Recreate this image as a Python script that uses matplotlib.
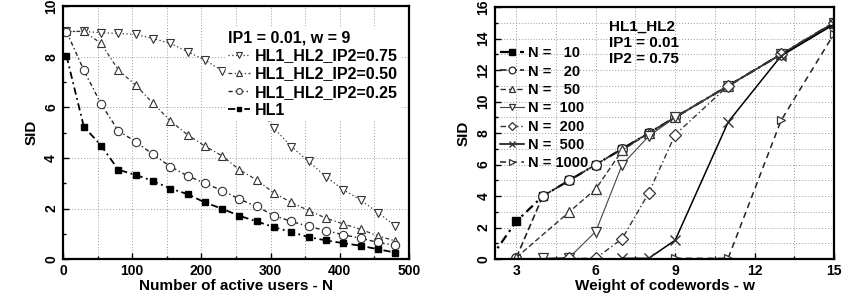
import numpy as np
import matplotlib
matplotlib.use("Agg")
import matplotlib.pyplot as plt
from matplotlib.ticker import MultipleLocator

plt.rcParams['font.family'] = ['Liberation Sans', 'DejaVu Sans']
plt.rcParams['font.weight'] = 'bold'

# left chart: SID vs number of active users
users = [5, 30, 55, 80, 105, 130, 155, 180, 205, 230, 255, 280, 305, 330, 355, 380, 405, 430, 455, 480]
sid_ip075 = [9.0, 9.0, 8.95, 8.92, 8.88, 8.72, 8.53, 8.2, 7.87, 7.45, 6.9, 6.1, 5.17, 4.45, 3.86, 3.26, 2.74, 2.34, 1.84, 1.32]
sid_ip050 = [9.0, 9.0, 8.53, 7.47, 6.88, 6.16, 5.47, 4.91, 4.47, 4.08, 3.53, 3.13, 2.61, 2.24, 1.92, 1.62, 1.39, 1.18, 0.92, 0.72]
sid_ip025 = [8.99, 7.47, 6.13, 5.07, 4.64, 4.14, 3.66, 3.29, 3.0, 2.71, 2.37, 2.08, 1.72, 1.49, 1.29, 1.13, 0.96, 0.83, 0.66, 0.55]
sid_hl1 = [8.03, 5.24, 4.49, 3.53, 3.33, 3.09, 2.79, 2.57, 2.24, 1.99, 1.71, 1.49, 1.26, 1.07, 0.87, 0.74, 0.63, 0.53, 0.39, 0.26]

# right chart: SID vs weight of codewords (each series has its own w values)
w_n10 = [2, 3, 4, 5, 6, 7, 8, 9, 11, 13, 15]
sid_n10 = [0.0, 2.4, 4.0, 5.0, 6.0, 7.0, 8.0, 9.0, 11.0, 13.0, 15.0]
w_n20 = [3, 4, 5, 6, 7, 8, 9, 11, 13, 15]
sid_n20 = [0.1, 4.0, 5.0, 6.0, 7.0, 8.0, 9.0, 11.0, 13.0, 15.0]
w_n50 = [3, 5, 6, 7, 8, 9, 11, 13, 15]
sid_n50 = [0.1, 3.0, 4.45, 6.9, 8.0, 9.0, 11.0, 13.0, 15.0]
w_n100 = [4, 5, 6, 7, 8, 9, 11, 13, 15]
sid_n100 = [0.05, 0.1, 1.75, 6.0, 7.8, 9.0, 11.0, 13.0, 15.0]
w_n200 = [5, 6, 7, 8, 9, 11, 13, 15]
sid_n200 = [0.05, 0.05, 1.3, 4.2, 7.9, 11.0, 13.0, 15.0]
w_n500 = [7, 8, 9, 11, 13, 15]
sid_n500 = [0.05, 0.05, 1.2, 8.7, 12.9, 14.9]
w_n1000 = [9, 11, 13, 15]
sid_n1000 = [0.05, 0.05, 8.8, 14.3]

fig = plt.figure(figsize=(8.45, 3.07), dpi=100)
ax1 = fig.add_axes([0.0746, 0.156, 0.4094, 0.824])
ax2 = fig.add_axes([0.586, 0.156, 0.401, 0.821])

def style_axes(ax):
    for s in ax.spines.values():
        s.set_linewidth(1.6)
    ax.tick_params(which='both', direction='in', labelsize=10, width=1)
    ax.tick_params(which='major', length=4)
    ax.tick_params(which='minor', length=2)
    ax.tick_params(axis='y', labelrotation=90)
    for lab in ax.get_yticklabels():
        lab.set_va('center')
    ax.grid(which='both', color='#999999', linestyle=(0, (1, 2)), linewidth=0.7)
    ax.set_axisbelow(True)

# ---- left
ax1.plot(users, sid_ip075, linestyle=(0, (1, 2)), color='#333333', lw=0.9,
         marker='v', ms=6, mfc='white', mec='#333333', mew=0.8, label='HL1_HL2_IP2=0.75')
ax1.plot(users, sid_ip050, linestyle=(0, (3, 2, 1, 2)), color='#333333', lw=0.9,
         marker='^', ms=6, mfc='white', mec='#333333', mew=0.8, label='HL1_HL2_IP2=0.50')
ax1.plot(users, sid_ip025, linestyle=(0, (3, 2, 1, 2)), color='#222222', lw=1.0,
         marker='o', ms=6, mfc='white', mec='#333333', mew=0.8, label='HL1_HL2_IP2=0.25')
ax1.plot(users, sid_hl1, linestyle=(0, (4, 2, 1, 2)), color='black', lw=1.3,
         marker='s', ms=5, mfc='black', mec='black', label='HL1')
ax1.set_xlim(0, 500)
ax1.set_ylim(0, 10)
ax1.xaxis.set_major_locator(MultipleLocator(100))
ax1.xaxis.set_minor_locator(MultipleLocator(50))
ax1.yaxis.set_major_locator(MultipleLocator(2))
ax1.yaxis.set_minor_locator(MultipleLocator(1))
style_axes(ax1)
ax1.grid(which='minor', axis='y', visible=False)
ax1.set_xlabel('Number of active users - N', fontsize=11, fontweight='bold', labelpad=1)
ax1.set_ylabel('SID', fontsize=11, fontweight='bold', labelpad=4)
leg1 = ax1.legend(title='IP1 = 0.01, w = 9', loc='upper left', bbox_to_anchor=(0.47, 0.915),
                  frameon=True, fancybox=False, edgecolor='white', framealpha=1,
                  fontsize=11.5, title_fontsize=11.5, handlelength=1.4, handletextpad=0.3,
                  labelspacing=0.2, borderpad=0.15, markerscale=0.7, borderaxespad=0)
leg1._legend_box.align = 'left'
leg1.get_title().set_fontweight('bold')

# ---- right
ax2.plot(w_n10, sid_n10, linestyle=(0, (4, 2, 1, 2)), color='black', lw=1.6,
         marker='s', ms=6, mfc='black', mec='black', label='N =   10')
ax2.plot(w_n20, sid_n20, linestyle=(0, (4, 2)), color='#222222', lw=1.2,
         marker='o', ms=7, mfc='white', mec='#222222', mew=0.9, label='N =   20')
ax2.plot(w_n50, sid_n50, linestyle=(0, (4, 2)), color='#333333', lw=1.0,
         marker='^', ms=7, mfc='white', mec='#333333', mew=0.9, label='N =   50')
ax2.plot(w_n100, sid_n100, linestyle='-', color='#444444', lw=0.8,
         marker='v', ms=7, mfc='white', mec='#333333', mew=0.9, label='N =  100')
ax2.plot(w_n200, sid_n200, linestyle=(0, (4, 2, 1, 2)), color='#333333', lw=1.0,
         marker='D', ms=6, mfc='white', mec='#333333', mew=0.9, label='N =  200')
ax2.plot(w_n500, sid_n500, linestyle='-', color='black', lw=1.1,
         marker='x', ms=7, mfc='white', mec='#333333', mew=1.0, label='N =  500')
ax2.plot(w_n1000, sid_n1000, linestyle=(0, (4, 3)), color='#222222', lw=1.1,
         marker='>', ms=6, mfc='white', mec='#333333', mew=0.9, label='N = 1000')
ax2.set_xlim(2.2, 15)
ax2.set_ylim(0, 16)
ax2.xaxis.set_major_locator(MultipleLocator(3))
ax2.xaxis.set_minor_locator(MultipleLocator(1.5))
ax2.yaxis.set_major_locator(MultipleLocator(2))
ax2.yaxis.set_minor_locator(MultipleLocator(1))
style_axes(ax2)
ax2.set_xlabel('Weight of codewords - w', fontsize=11, fontweight='bold', labelpad=1)
ax2.set_ylabel('SID', fontsize=11, fontweight='bold', labelpad=4)
ax2.legend(loc='upper left', bbox_to_anchor=(0.0, 0.865), frameon=False,
           fontsize=10.5, handlelength=1.6, handletextpad=0.3, labelspacing=0.3,
           markerscale=0.7, borderaxespad=0, borderpad=0.35)
ax2.text(0.335, 0.95, 'HL1_HL2\nIP1 = 0.01\nIP2 = 0.75', transform=ax2.transAxes,
         ha='left', va='top', multialignment='left', fontsize=11, fontweight='bold',
         linespacing=1.2)

fig.savefig('out.png', dpi=100)
